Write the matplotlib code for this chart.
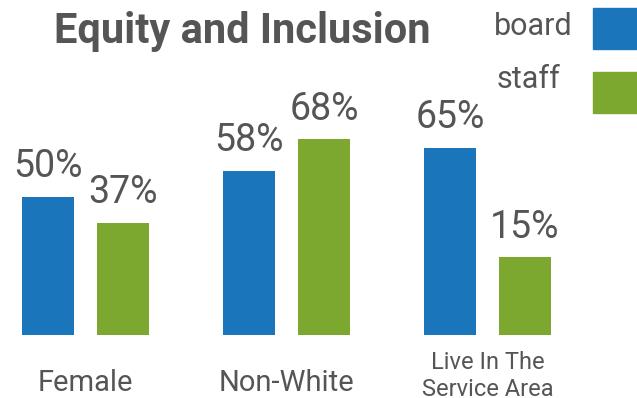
import matplotlib
matplotlib.use("Agg")
import matplotlib.pyplot as plt
from matplotlib.patches import Rectangle
import numpy as np

# data
categories = ["Female", "Non-White", "Live In The\nService Area"]
board_labels = ["50%", "58%", "65%"]
staff_labels = ["37%", "68%", "15%"]
# bar heights as drawn in the picture (not exactly proportional to the labels)
board_heights = [48, 57, 65]
staff_heights = [39, 68, 27]
series = ["board", "staff"]

BLUE = "#1B75BB"
GREEN = "#7CA82F"
TEXT = "#555555"
FONT = "Roboto"

W, H = 637, 398
fig = plt.figure(figsize=(W / 100, H / 100), dpi=100)
ax = fig.add_axes([0, 0, 1, 1])
ax.set_xlim(-0.425, 2.744)
ax.set_ylim(-21.9, 116.3)
ax.axis("off")

x = np.arange(len(categories))
off = 0.187
width = 0.259
ax.bar(x - off, board_heights, width, color=BLUE)
ax.bar(x + off, staff_heights, width, color=GREEN)

for xi, h, lab in zip(x - off, board_heights, board_labels):
    ax.text(xi, h + 6.8, lab, ha="center", va="baseline", fontsize=27,
            color=TEXT, family=FONT)
for xi, h, lab in zip(x + off, staff_heights, staff_labels):
    ax.text(xi, h + 6.8, lab, ha="center", va="baseline", fontsize=27,
            color=TEXT, family=FONT)

# category labels
for xi, cat in zip(x, categories):
    lines = cat.split("\n")
    if len(lines) > 1:
        # two-line label, smaller, second line runs off the bottom edge
        for k, line in enumerate(lines):
            ax.text(xi, -11.8 - 9.4 * k, line, ha="center", va="baseline",
                    fontsize=17, color=TEXT, family=FONT)
    else:
        ax.text(xi, -19.5, cat, ha="center", va="baseline", fontsize=21,
                color=TEXT, family=FONT)

# title
fig.text(242 / W, 1 - 43 / H, "Equity and Inclusion", ha="center",
         va="baseline", fontsize=30, fontweight="bold", color=TEXT, family=FONT)

# legend drawn by hand: text left of a coloured square
leg_y = [35, 88]
sq_y = [8, 72]
for name, col, ty, sy in zip(series, [BLUE, GREEN], leg_y, sq_y):
    fig.text(573 / W if name == "board" else 560 / W, 1 - ty / H, name,
             ha="right", va="baseline", fontsize=22, color=TEXT, family=FONT)
    fig.add_artist(Rectangle((593 / W, 1 - (sy + 41) / H), 50 / W, 41 / H,
                             transform=fig.transFigure, color=col))

fig.savefig("out.png", dpi=100)
